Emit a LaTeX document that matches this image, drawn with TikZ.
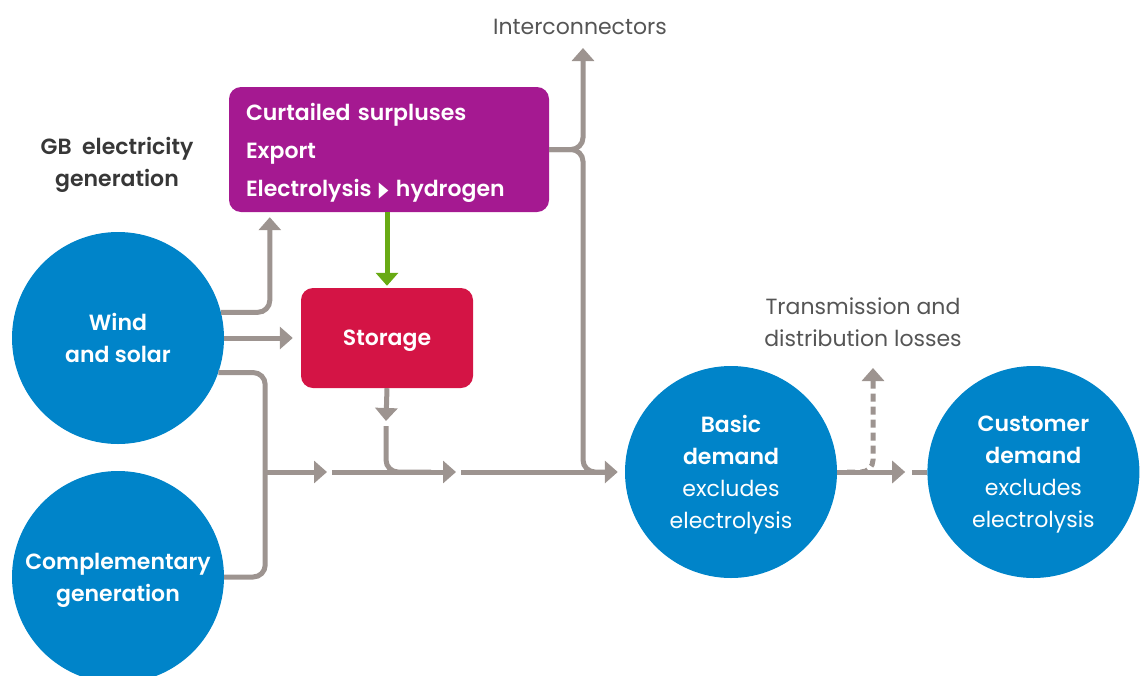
\documentclass[tikz,border=0pt]{standalone}
\usepackage{fontspec}
\setmainfont{Poppins}[BoldFont={Poppins SemiBold}]
\newfontfamily\symfont{DejaVu Sans}
\usepackage{tikz}
\usetikzlibrary{arrows.meta, positioning}

\definecolor{hubblue}{RGB}{0,132,201}
\definecolor{surpluspurple}{RGB}{165,25,145}
\definecolor{storagered}{RGB}{212,20,69}
\definecolor{flowgrey}{RGB}{157,148,144}
\definecolor{flowgreen}{RGB}{104,170,20}
\definecolor{notegrey}{RGB}{85,85,85}
\definecolor{titlegrey}{RGB}{55,55,55}

\newcommand{\bodysize}{\fontsize{22}{32}\selectfont}
\newcommand{\boxsize}{\fontsize{22}{38}\selectfont}
\newcommand{\totip}{{\symfont\fontsize{21}{21}\selectfont\scalebox{0.6}[1]{▶}}}

\begin{document}
\begin{tikzpicture}[x=1pt, y=-1pt, font=\bodysize]
            \tikzstyle{hub} = [circle, fill=hubblue, text=white, minimum size=212pt, inner sep=0pt, text depth=0pt, align=center, font=\bodysize\bfseries]
            \tikzstyle{box} = [rectangle, rounded corners=12pt, text=white, inner sep=0pt, font=\bodysize\bfseries]
            \tikzstyle{note} = [text=notegrey, align=center, text depth=0pt, font=\bodysize]
            \tikzstyle{pipe} = [draw=flowgrey, line width=5pt, rounded corners=12pt]
            \tikzstyle{flow} = [pipe, -{Triangle[length=13pt, width=22pt]}]
            \tikzstyle{greenflow} = [draw=flowgreen, line width=5pt, -{Triangle[length=13pt, width=22pt]}]

            \useasboundingbox (0,0) rectangle (1146,675);

            % Generation
            \node[hub] (wind) at (118,338) {Wind\\and solar};
            \node[hub] (compl) at (118,577) {Complementary\\generation};
            \node[text=titlegrey, align=center, text depth=0pt, font=\bodysize\bfseries] (gb) at (117,162) {GB\ \ electricity\\generation};

            % Surplus and storage
            \node[box, fill=surpluspurple, minimum width=320pt, minimum height=125pt, text width=286pt, align=left, font=\boxsize\bfseries] (surplus) at (389,149.5)
                {Curtailed surpluses\\Export\\\raisebox{0pt}[\height][0pt]{Electrolysis \totip{} hydrogen}};
            \node[box, fill=storagered, minimum width=172pt, minimum height=100pt, text depth=0pt] (storage) at (387,338) {Storage};

            % Demand
            \node[hub] (basic) at (731,472) {Basic\\demand\\{\mdseries excludes}\\{\mdseries electrolysis}};
            \node[hub, right=90pt of basic] (customer) {Customer\\demand\\{\mdseries excludes}\\{\mdseries electrolysis}};

            % Labels
            \node[note] (inter) at (580,27) {Interconnectors};
            \node[note] (losses) at (863,322) {Transmission and\\distribution losses};

            % Junctions
            \coordinate (split) at (265,472);
            \coordinate (m1) at (327,472);
            \coordinate (m2) at (456,472);
            \coordinate (storetip) at (386,421);
            \coordinate (intertip) at (583,48);
            \coordinate (losstip) at (873,368);

            % Flows from generation
            \draw[flow, shorten >=5pt] (wind.14) -| ([xshift=41pt]surplus.south west);
            \draw[flow, shorten >=8pt] (wind.east) -- (storage.west);
            \draw[pipe] (wind.-19) -| ([xshift=41pt]compl.east) -- (compl.east);
            \draw[greenflow, shorten >=2pt] (surplus.south -| storage.north) -- (storage.north);

            % Main line
            \draw[flow] (split) -- (m1);
            \draw[flow] ([xshift=5pt]m1) -- (m2);
            \draw[flow, shorten >=7pt] ([xshift=5pt]m2) -- (basic.west);
            \draw[flow] (storage.south) -- (storetip);
            \draw[pipe] ([yshift=-5pt]storetip) |- ([xshift=-25pt]m2);

            % Interconnectors
            \draw[flow] (surplus.east) -| (intertip);
            \draw[pipe] (surplus.east) -| (intertip |- basic.west) -- ([xshift=-20pt]basic.west);

            % Losses and customer
            \draw[flow] (basic.east) -- ([xshift=-22pt]customer.west);
            \draw[pipe] ([xshift=-15pt]customer.west) -- (customer.west);
            \draw[flow, dash pattern=on 8pt off 5pt] ([xshift=10pt]basic.east) -| (losstip);
        \end{tikzpicture}
\end{document}
